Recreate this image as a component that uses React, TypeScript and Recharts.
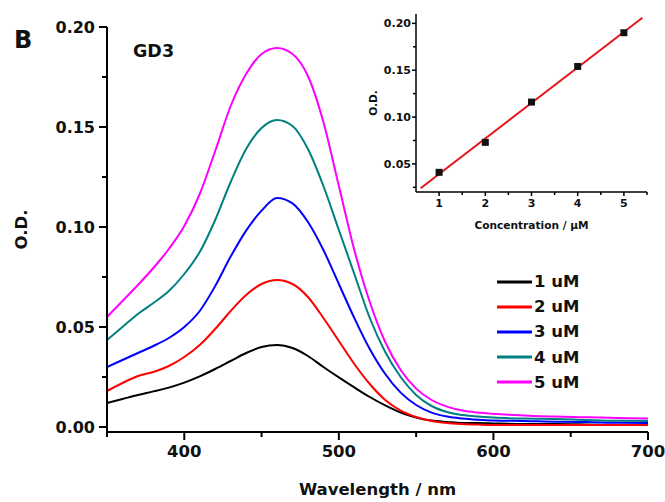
import React from 'react';
import { LineChart, Line, XAxis, YAxis, Legend, ComposedChart, Scatter } from 'recharts';

const FONT = "'DejaVu Sans', Arial, sans-serif";

// absorption spectra, O.D. vs wavelength (nm)
const wavelengths = [350, 360, 370, 380, 390, 400, 410, 420, 430, 440, 450, 460, 470, 480, 490, 500, 510, 520, 530, 540, 550, 560, 570, 580, 590, 600, 620, 640, 660, 680, 700];
const od1uM = [0.012, 0.014, 0.016, 0.0178, 0.0197, 0.0222, 0.0253, 0.029, 0.033, 0.037, 0.04, 0.041, 0.0395, 0.0355, 0.03, 0.0248, 0.0198, 0.015, 0.0108, 0.0072, 0.0047, 0.0032, 0.0025, 0.002, 0.002, 0.0018, 0.0015, 0.0015, 0.0013, 0.001, 0.001];
const od2uM = [0.018, 0.022, 0.0255, 0.0275, 0.0305, 0.035, 0.041, 0.049, 0.058, 0.066, 0.0715, 0.0735, 0.0715, 0.065, 0.0545, 0.043, 0.0315, 0.0215, 0.0135, 0.0082, 0.005, 0.003, 0.002, 0.0015, 0.0012, 0.001, 0.001, 0.001, 0.001, 0.001, 0.001];
const od3uM = [0.03, 0.0335, 0.037, 0.0405, 0.0445, 0.05, 0.058, 0.0705, 0.0852, 0.0982, 0.1082, 0.1145, 0.1118, 0.1025, 0.0885, 0.0715, 0.0545, 0.039, 0.0265, 0.0172, 0.011, 0.0072, 0.0052, 0.0042, 0.0036, 0.0032, 0.003, 0.0026, 0.0025, 0.0021, 0.002];
const od4uM = [0.0435, 0.05, 0.0565, 0.062, 0.068, 0.0765, 0.0875, 0.1035, 0.1225, 0.139, 0.1495, 0.1535, 0.1505, 0.139, 0.1205, 0.0985, 0.0765, 0.0545, 0.0375, 0.025, 0.016, 0.0105, 0.0075, 0.006, 0.0052, 0.0047, 0.0042, 0.004, 0.0035, 0.0031, 0.003];
const od5uM = [0.055, 0.063, 0.071, 0.0795, 0.089, 0.1005, 0.1165, 0.138, 0.1605, 0.1765, 0.1865, 0.1895, 0.1865, 0.1755, 0.1525, 0.1205, 0.0885, 0.0625, 0.0425, 0.0285, 0.0192, 0.0135, 0.0102, 0.0082, 0.0072, 0.0066, 0.0058, 0.0052, 0.0049, 0.0045, 0.0042];

const seriesKeys = ['c1', 'c2', 'c3', 'c4', 'c5'];
const seriesNames = ['1 uM', '2 uM', '3 uM', '4 uM', '5 uM'];
const seriesColors = ['#000000', '#ff0000', '#0000ff', '#008080', '#ff00ff'];
const seriesValues = [od1uM, od2uM, od3uM, od4uM, od5uM];

const xTicks = [350, 400, 450, 500, 550, 600, 650, 700];
const xMajor = [400, 500, 600, 700];
const yTicks = [0, 0.025, 0.05, 0.075, 0.1, 0.125, 0.15, 0.175, 0.2];
const yMajor = [0, 0.05, 0.1, 0.15, 0.2];

// inset: peak O.D. vs concentration
const concentration = [1, 2, 3, 4, 5];
const peakOD = [0.041, 0.073, 0.116, 0.154, 0.19];
const fitConc = [0.6, 5.4];
const fitOD = [0.024, 0.206];

const insetXTicks = [1, 1.5, 2, 2.5, 3, 3.5, 4, 4.5, 5, 5.5];
const insetXMajor = [1, 2, 3, 4, 5];
const insetYTicks = [0.025, 0.05, 0.075, 0.1, 0.125, 0.15, 0.175, 0.2];
const insetYMajor = [0.05, 0.1, 0.15, 0.2];

const spectra = wavelengths.map((w, i) => {
  const row: any = { w };
  seriesKeys.forEach((k, j) => (row[k] = seriesValues[j][i]));
  return row;
});
const points = concentration.map((c, i) => ({ x: c, y: peakOD[i] }));
const fit = fitConc.map((c, i) => ({ x: c, y: fitOD[i] }));

const isIn = (arr: number[], v: number) => arr.some((m) => Math.abs(m - v) < 1e-9);

type TickOpts = {
  side: 'left' | 'bottom';
  size: number;
  margin: number;
  major: number;
  minor: number;
  majors: number[];
  fontSize: number;
  width: number;
  fmt: (v: number) => string;
};

// draws major/minor tick marks itself, label only on majors
function makeTick(o: TickOpts) {
  return (props: any) => {
    const { x, y, payload } = props;
    const v = payload.value;
    const big = isIn(o.majors, v);
    const len = big ? o.major : o.minor;
    const textProps = { fontFamily: FONT, fontWeight: 'bold', fontSize: o.fontSize, fill: '#111' };
    if (o.side === 'left') {
      const ax = x + o.size + o.margin;
      return (
        <g>
          <line x1={ax - len} x2={ax} y1={y} y2={y} stroke="#000" strokeWidth={o.width} />
          {big && (
            <text x={x} y={y} dy="0.36em" textAnchor="end" {...textProps}>
              {o.fmt(v)}
            </text>
          )}
        </g>
      );
    }
    const ay = y - o.size - o.margin;
    return (
      <g>
        <line x1={x} x2={x} y1={ay} y2={ay + len} stroke="#000" strokeWidth={o.width} />
        {big && (
          <text x={x} y={y} dy="0.72em" textAnchor="middle" {...textProps}>
            {o.fmt(v)}
          </text>
        )}
      </g>
    );
  };
}

const renderLegend = (props: any) => {
  const { payload } = props;
  return (
    <div style={{ fontFamily: FONT, fontWeight: 'bold', fontSize: 16.5, color: '#111' }}>
      {(payload || []).map((p: any) => (
        <div key={p.value} style={{ display: 'flex', alignItems: 'center', height: 25.2 }}>
          <svg width={37} height={6}>
            <line x1={0} x2={35} y1={3} y2={3} stroke={p.color} strokeWidth={3} />
          </svg>
          <span>{p.value}</span>
        </div>
      ))}
    </div>
  );
};

export default function App() {
  return (
    <div style={{ position: 'absolute', left: 0, top: 0, width: 665, height: 502, background: '#fff' }}>
      <LineChart width={665} height={502} data={spectra} margin={{ top: 27, right: 17, left: 0, bottom: 0 }}>
        <XAxis
          dataKey="w"
          type="number"
          domain={[350, 700]}
          allowDataOverflow
          ticks={xTicks}
          interval={0}
          height={70}
          tickSize={8}
          tickMargin={5}
          tickLine={false}
          axisLine={{ stroke: '#000', strokeWidth: 2 }}
          tick={makeTick({ side: 'bottom', size: 8, margin: 5, major: 8, minor: 5, majors: xMajor, fontSize: 16.5, width: 2, fmt: (v) => String(v) })}
          label={{ value: 'Wavelength / nm', position: 'insideBottom', offset: 7, style: { fontFamily: FONT, fontWeight: 'bold', fontSize: 16.5, fill: '#111' } }}
        />
        <YAxis
          type="number"
          domain={[-0.0025, 0.2]}
          allowDataOverflow
          ticks={yTicks}
          interval={0}
          width={107}
          tickSize={8}
          tickMargin={4}
          tickLine={false}
          axisLine={{ stroke: '#000', strokeWidth: 2 }}
          tick={makeTick({ side: 'left', size: 8, margin: 4, major: 8, minor: 5, majors: yMajor, fontSize: 16, width: 2, fmt: (v) => v.toFixed(2) })}
          label={{ value: 'O.D.', angle: -90, position: 'insideLeft', offset: 21, style: { textAnchor: 'middle', fontFamily: FONT, fontWeight: 'bold', fontSize: 16.5, fill: '#111' } }}
        />
        <Legend
          layout="horizontal"
          verticalAlign="middle"
          align="center"
          content={renderLegend}
          wrapperStyle={{ top: 269, left: 497, width: 'auto' }}
        />
        {seriesKeys.map((k, i) => (
          <Line
            key={k}
            type="monotone"
            dataKey={k}
            name={seriesNames[i]}
            stroke={seriesColors[i]}
            strokeWidth={2}
            dot={false}
            isAnimationActive={false}
          />
        ))}
      </LineChart>

      <div style={{ position: 'absolute', left: 14, top: 26, fontFamily: FONT, fontWeight: 'bold', fontSize: 24, lineHeight: '28px', color: '#111' }}>B</div>
      <div style={{ position: 'absolute', left: 133, top: 41, fontFamily: FONT, fontWeight: 'bold', fontSize: 17.5, lineHeight: '20px', color: '#111' }}>GD3</div>

      <div style={{ position: 'absolute', left: 340, top: 0 }}>
        <ComposedChart width={325} height={235} margin={{ top: 14, right: 18, left: 0, bottom: 0 }}>
          <XAxis
            dataKey="x"
            type="number"
            domain={[0.5, 5.5]}
            allowDataOverflow
            ticks={insetXTicks}
            interval={0}
            height={43}
            tickSize={4}
            tickMargin={3}
            tickLine={false}
            axisLine={{ stroke: '#000', strokeWidth: 1.5 }}
            tick={makeTick({ side: 'bottom', size: 4, margin: 3, major: 4, minor: 3, majors: insetXMajor, fontSize: 11, width: 1.5, fmt: (v) => String(v) })}
            label={{ value: 'Concentration / \u00b5M', position: 'insideBottom', offset: 6, style: { fontFamily: FONT, fontWeight: 'bold', fontSize: 10.6, fill: '#111' } }}
          />
          <YAxis
            type="number"
            domain={[0.02, 0.21]}
            allowDataOverflow
            ticks={insetYTicks}
            interval={0}
            width={76}
            tickSize={3}
            tickMargin={2}
            tickLine={false}
            axisLine={{ stroke: '#000', strokeWidth: 1.5 }}
            tick={makeTick({ side: 'left', size: 3, margin: 2, major: 4, minor: 3, majors: insetYMajor, fontSize: 11, width: 1.5, fmt: (v) => v.toFixed(2) })}
            label={{ value: 'O.D.', angle: -90, position: 'insideLeft', offset: 33, style: { textAnchor: 'middle', fontFamily: FONT, fontWeight: 'bold', fontSize: 10.6, fill: '#111' } }}
          />
          <Line
            data={fit}
            type="linear"
            dataKey="y"
            stroke="#e8141a"
            strokeWidth={2}
            dot={false}
            isAnimationActive={false}
          />
          <Scatter
            data={points}
            dataKey="y"
            fill="#111"
            isAnimationActive={false}
            shape={(p: any) => <rect x={p.cx - 3.5} y={p.cy - 3.5} width={7} height={7} fill="#111" />}
          />
        </ComposedChart>
      </div>
    </div>
  );
}
